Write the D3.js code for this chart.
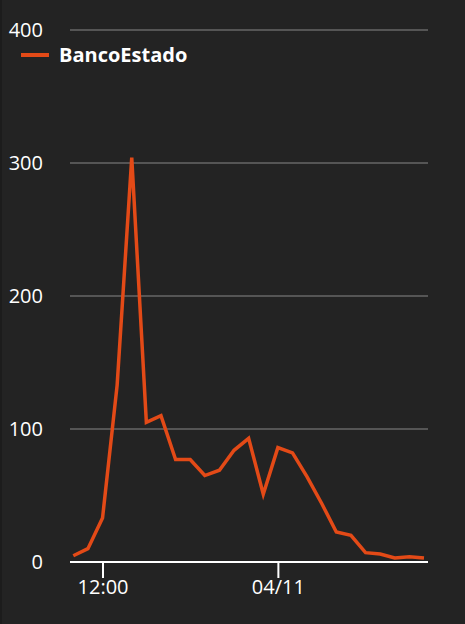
<!DOCTYPE html>
<html>
<head>
<meta charset="utf-8">
<script src="https://cdn.jsdelivr.net/npm/d3@7"></script>
<style>
  html, body { margin: 0; padding: 0; background: #232323; }
  svg { display: block; }
  text { font-family: "Open Sans", sans-serif; fill: #ffffff; }
</style>
</head>
<body>
<svg id="chart" width="465" height="624"></svg>
<script>
const seriesName = "BancoEstado";
const startTime = "2020-11-03T10:00:00";
const values = [4.7, 10, 33, 133, 304, 105, 110, 77, 77, 65, 69, 84, 93, 51, 86, 82, 64, 44, 22.5, 20, 7, 6, 3, 4, 3];
const yTicks = [0, 100, 200, 300, 400];
const lineColor = "#e34a17";

const parse = d3.timeParse("%Y-%m-%dT%H:%M:%S");
const t0 = parse(startTime);
const data = values.map((v, i) => ({ t: d3.timeHour.offset(t0, i), v }));

const svg = d3.select("#chart");
const W = 465, H = 624;

svg.append("rect").attr("width", W).attr("height", H).attr("fill", "#232323");
svg.append("rect").attr("x", 0).attr("y", 0).attr("width", 2).attr("height", H).attr("fill", "#1c1c1c");

const x = d3.scaleTime()
  .domain(d3.extent(data, d => d.t))
  .range([73.3, 424]);
const y = d3.scaleLinear().domain([0, 400]).range([562, 30]);

const gridX0 = 70, gridX1 = 428;

// gridlines
svg.append("g").selectAll("line")
  .data(yTicks.filter(d => d > 0))
  .join("line")
  .attr("x1", gridX0).attr("x2", gridX1)
  .attr("y1", d => y(d)).attr("y2", d => y(d))
  .attr("stroke", "#555555").attr("stroke-width", 2);

// y labels
svg.append("g").selectAll("text")
  .data(yTicks)
  .join("text")
  .attr("x", 43).attr("y", d => y(d))
  .attr("dy", "0.35em")
  .attr("text-anchor", "end")
  .attr("font-size", 20)
  .text(d => d);

// x axis
const fmt = d => d.getHours() === 0 ? d3.timeFormat("%d/%m")(d) : d3.timeFormat("%H:%M")(d);
const xAxis = d3.axisBottom(x)
  .ticks(d3.timeHour.every(12))
  .tickFormat(fmt)
  .tickSize(16)
  .tickSizeOuter(0);
const gx = svg.append("g").attr("transform", `translate(0,${y(0)})`).call(xAxis);
gx.select(".domain").remove();
gx.append("line").attr("x1", gridX0).attr("x2", gridX1).attr("y1", 0).attr("y2", 0)
  .attr("stroke", "#ffffff").attr("stroke-width", 2);
gx.selectAll(".tick line").attr("stroke", "#ffffff").attr("stroke-width", 2);
gx.selectAll(".tick text")
  .attr("y", 18).attr("dy", "0.71em")
  .attr("fill", "#ffffff")
  .attr("font-size", 20)
  .attr("font-family", "'Open Sans', sans-serif");

// line
const line = d3.line().x(d => x(d.t)).y(d => y(d.v));
svg.append("path").datum(data)
  .attr("d", line)
  .attr("fill", "none")
  .attr("stroke", lineColor)
  .attr("stroke-width", 3.5)
  .attr("stroke-linejoin", "miter");

// legend
const lg = svg.append("g");
lg.append("line").attr("x1", 21).attr("x2", 49).attr("y1", 55).attr("y2", 55)
  .attr("stroke", lineColor).attr("stroke-width", 4);
lg.append("text").attr("x", 59).attr("y", 55).attr("dy", "0.35em")
  .attr("font-size", 20).attr("font-weight", "bold")
  .text(seriesName);
</script>
</body>
</html>
